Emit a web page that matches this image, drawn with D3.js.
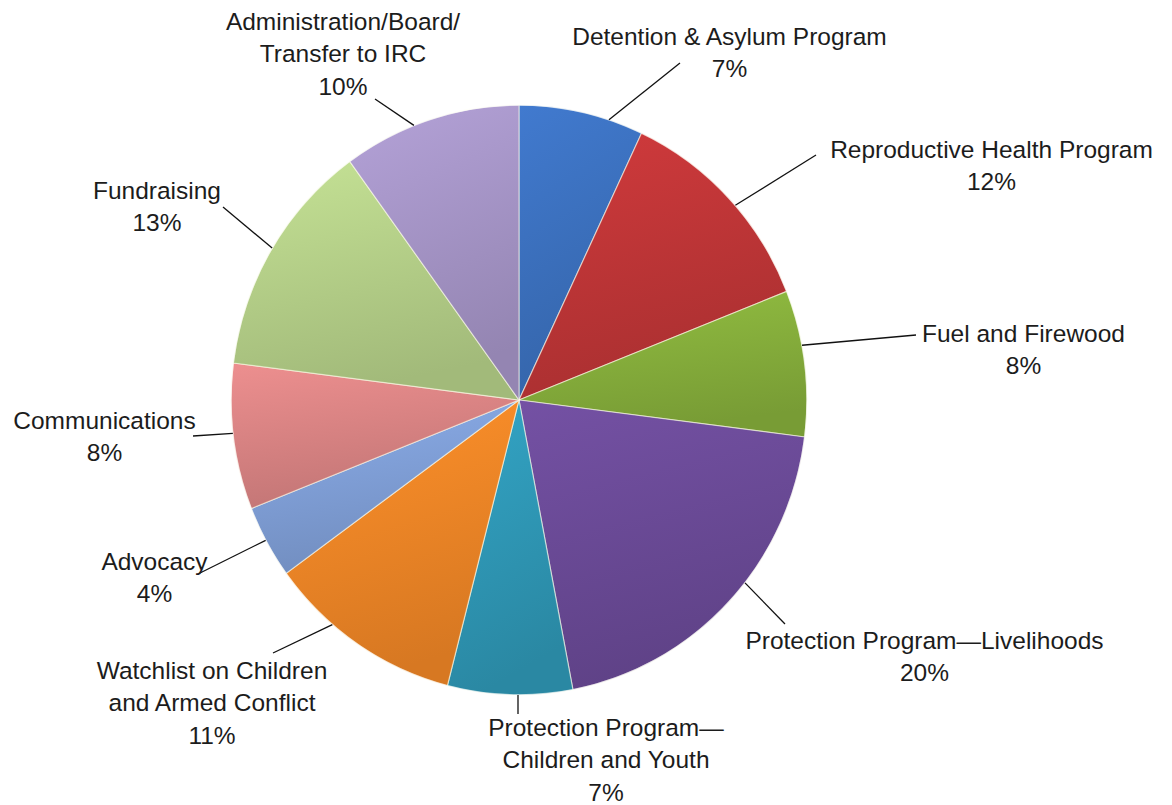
<!DOCTYPE html>
<html>
<head>
<meta charset="utf-8">
<script src="https://cdn.jsdelivr.net/npm/d3@7"></script>
<style>
  html, body { margin: 0; padding: 0; background: #ffffff; }
  svg { display: block; }
  text { font-family: "Liberation Sans", Arial, Helvetica, sans-serif; fill: #1c1c1c; }
</style>
</head>
<body>
<svg id="chart" width="1172" height="805"></svg>
<script>
// ---- data ----
const categories = [
  "Detention & Asylum Program",
  "Reproductive Health Program",
  "Fuel and Firewood",
  "Protection Program—Livelihoods",
  "Protection Program—Children and Youth",
  "Watchlist on Children and Armed Conflict",
  "Advocacy",
  "Communications",
  "Fundraising",
  "Administration/Board/Transfer to IRC"
];
const values = [7, 12, 8, 20, 7, 11, 4, 8, 13, 10];
const labelLines = [
  ["Detention & Asylum Program"],
  ["Reproductive Health Program"],
  ["Fuel and Firewood"],
  ["Protection Program—Livelihoods"],
  ["Protection Program—", "Children and Youth"],
  ["Watchlist on Children", "and Armed Conflict"],
  ["Advocacy"],
  ["Communications"],
  ["Fundraising"],
  ["Administration/Board/", "Transfer to IRC"]
];
const sliceColors = [
  "#3b70bd", "#be3537", "#86ae3b", "#6a4a96", "#2f97b5",
  "#ef8526", "#7f9ed6", "#d98383", "#b4cf88", "#a594c6"
];

// ---- layout (positions only) ----
const cx = 519, cy = 400, rx = 288, ry = 295;
const fontSize = 24.5, lineH = 32.3;
// label centre x, first baseline y, leader end point, attach-angle offset (deg)
const labelLayout = [
  { x: 729.5,  y: 45,  ex: 680, ey: 63,  off: 5.6 },
  { x: 991.5,  y: 158, ex: 816, ey: 155, off: 1.9 },
  { x: 1023.5, y: 342, ex: 916, ey: 335, off: -3.5 },
  { x: 924.5,  y: 649, ex: 785, ey: 624, off: -4.9 },
  { x: 606,    y: 736, ex: 518, ey: 714, off: -1.6 },
  { x: 212,    y: 679, ex: 273, ey: 653, off: 6.2 },
  { x: 154.5,  y: 570, ex: 200, ey: 573, off: 0.4 },
  { x: 104.5,  y: 429, ex: 193, ey: 436, off: 0.7 },
  { x: 157,    y: 199, ex: 223, ey: 207, off: 0.4 },
  { x: 343,    y: 30,  ex: 375, ey: 99,  off: -3.4 }
];

const svg = d3.select("#chart");
const defs = svg.append("defs");

const pie = d3.pie().sort(null).value(d => d).startAngle(0).endAngle(2 * Math.PI);
const arcs = pie(values);
const arc = d3.arc().innerRadius(0).outerRadius(ry);

// gradients: lighter on top, darker below
sliceColors.forEach((c, i) => {
  const g = defs.append("linearGradient")
    .attr("id", "grad" + i)
    .attr("x1", 0).attr("y1", 0).attr("x2", 0.25).attr("y2", 1);
  const base = d3.color(c);
  g.append("stop").attr("offset", "0%").attr("stop-color", base.brighter(0.25));
  g.append("stop").attr("offset", "100%").attr("stop-color", base.darker(0.3));
});

const pieG = svg.append("g")
  .attr("transform", `translate(${cx},${cy}) scale(${rx / ry},1)`);

pieG.selectAll("path.slice")
  .data(arcs)
  .enter()
  .append("path")
  .attr("class", "slice")
  .attr("d", arc)
  .attr("fill", (d, i) => `url(#grad${i})`)
  .attr("stroke", "rgba(255,255,235,0.55)")
  .attr("stroke-width", 1.2)
  .attr("vector-effect", "non-scaling-stroke");

// soft rim
pieG.append("ellipse")
  .attr("cx", 0).attr("cy", 0).attr("rx", ry).attr("ry", ry)
  .attr("fill", "none")
  .attr("stroke", "rgba(255,255,255,0.6)")
  .attr("stroke-width", 1.5)
  .attr("vector-effect", "non-scaling-stroke");

// leader lines
function edgePoint(a) {
  return [cx + rx * Math.sin(a), cy - ry * Math.cos(a)];
}
svg.append("g").selectAll("line")
  .data(arcs)
  .enter()
  .append("line")
  .attr("x1", (d, i) => edgePoint((d.startAngle + d.endAngle) / 2 + labelLayout[i].off * Math.PI / 180)[0])
  .attr("y1", (d, i) => edgePoint((d.startAngle + d.endAngle) / 2 + labelLayout[i].off * Math.PI / 180)[1])
  .attr("x2", (d, i) => labelLayout[i].ex)
  .attr("y2", (d, i) => labelLayout[i].ey)
  .attr("stroke", "#111")
  .attr("stroke-width", 1.3);

// labels
const lab = svg.append("g").selectAll("text")
  .data(arcs)
  .enter()
  .append("text")
  .attr("text-anchor", "middle")
  .attr("font-size", fontSize)
  .attr("x", (d, i) => labelLayout[i].x)
  .attr("y", (d, i) => labelLayout[i].y);

lab.each(function (d, i) {
  const t = d3.select(this);
  const lines = labelLines[i].concat([values[i] + "%"]);
  lines.forEach((s, k) => {
    t.append("tspan")
      .attr("x", labelLayout[i].x)
      .attr("dy", k === 0 ? 0 : lineH)
      .text(s);
  });
});
</script>
</body>
</html>
